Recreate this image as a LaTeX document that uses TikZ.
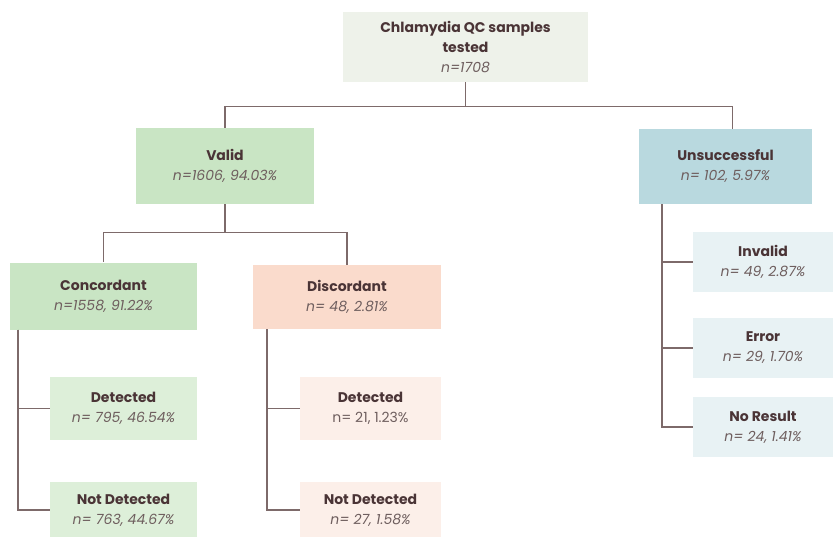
\documentclass[tikz,border=0pt]{standalone}
\usepackage{fontspec}
\setmainfont{Poppins}
\usepackage{tikz}
\usetikzlibrary{positioning}
\definecolor{ink}{HTML}{4A3436}
\definecolor{soft}{HTML}{6E5E5E}
\definecolor{wire}{HTML}{7D6A6A}
\definecolor{topfill}{HTML}{EEF2EA}
\definecolor{greenfill}{HTML}{C9E5C4}
\definecolor{greenlite}{HTML}{DDEFD9}
\definecolor{bluefill}{HTML}{B9D9DF}
\definecolor{bluelite}{HTML}{E8F2F4}
\definecolor{redfill}{HTML}{FADBCC}
\definecolor{redlite}{HTML}{FCEFE9}
\newcommand{\hd}[1]{{\bfseries\color{ink}#1}}
\newcommand{\nn}[1]{{\itshape\color{soft}#1}}

\begin{document}
\begin{tikzpicture}[x=1pt, y=-1pt,
    every node/.style = { align = center, inner sep = 0pt, font = \fontsize{14}{20}\selectfont },
    box/.style n args = {3}{ fill = #1, minimum width = #2, minimum height = #3 },
    link/.style = { draw = wire, line width = 1.4pt }]
    \useasboundingbox (0,0) rectangle (833,536);

    \node [box = {topfill}{245}{70}] (top) at (465.5,47)
      { \hd{Chlamydia QC samples}\\ \hd{tested}\\ \nn{n=1708} };
    \node [box = {greenfill}{178}{76}] (valid) at (225,166)
      { \hd{Valid}\\ \nn{n=1606, 94.03\%} };
    \node [box = {bluefill}{173}{75}] (unsucc) at (725.5,166.5)
      { \hd{Unsuccessful}\\ \nn{n= 102, 5.97\%} };

    \node [box = {greenfill}{187}{67}] (conc) at (103.5,296)
      { \hd{Concordant}\\ \nn{n=1558, 91.22\%} };
    \node [box = {redfill}{188}{64}] (disc) at (347,297)
      { \hd{Discordant}\\ \nn{n= 48, 2.81\%} };

    \node [box = {greenlite}{147}{63}] (cdet) at (123.5,408.5)
      { \hd{Detected}\\ \nn{n= 795, 46.54\%} };
    \node [box = {greenlite}{147}{56}] (cnd) at (123.5,510)
      { \hd{Not Detected}\\ \nn{n= 763, 44.67\%} };
    \node [box = {redlite}{141}{63}] (ddet) at (370.5,408.5)
      { \hd{Detected}\\ {\color{soft}n= 21, 1.23\%} };
    \node [box = {redlite}{141}{56}] (dnd) at (370.5,510)
      { \hd{Not Detected}\\ \nn{n= 27, 1.58\%} };

    \node [box = {bluelite}{140}{60}] (inv) at (763,262)
      { \hd{Invalid}\\ \nn{n= 49, 2.87\%} };
    \node [box = {bluelite}{140}{60}] (err) at (763,348)
      { \hd{Error}\\ \nn{n= 29, 1.70\%} };
    \node [box = {bluelite}{140}{60}] (nores) at (763,427)
      { \hd{No Result}\\ \nn{n= 24, 1.41\%} };

    % top level split
    \draw [link] (top.south) -- ++(0,24) coordinate (split) -| (valid.north);
    \draw [link] (split) -| ([xshift=7pt]unsucc.north);
    % valid split
    \draw [link] (valid.south) -- ++(0,28) coordinate (vsplit) -| (conc.north);
    \draw [link] (vsplit) -| (disc.north);
    % spines
    \draw [link] ([xshift=8pt]conc.south west) |- (cdet.west);
    \draw [link] ([xshift=8pt]conc.south west) |- (cnd.west);
    \draw [link] ([xshift=14pt]disc.south west) |- (ddet.west);
    \draw [link] ([xshift=14pt]disc.south west) |- (dnd.west);
    \draw [link] ([xshift=23pt]unsucc.south west) |- (inv.west);
    \draw [link] ([xshift=23pt]unsucc.south west) |- (err.west);
    \draw [link] ([xshift=23pt]unsucc.south west) |- (nores.west);
\end{tikzpicture}
\end{document}
